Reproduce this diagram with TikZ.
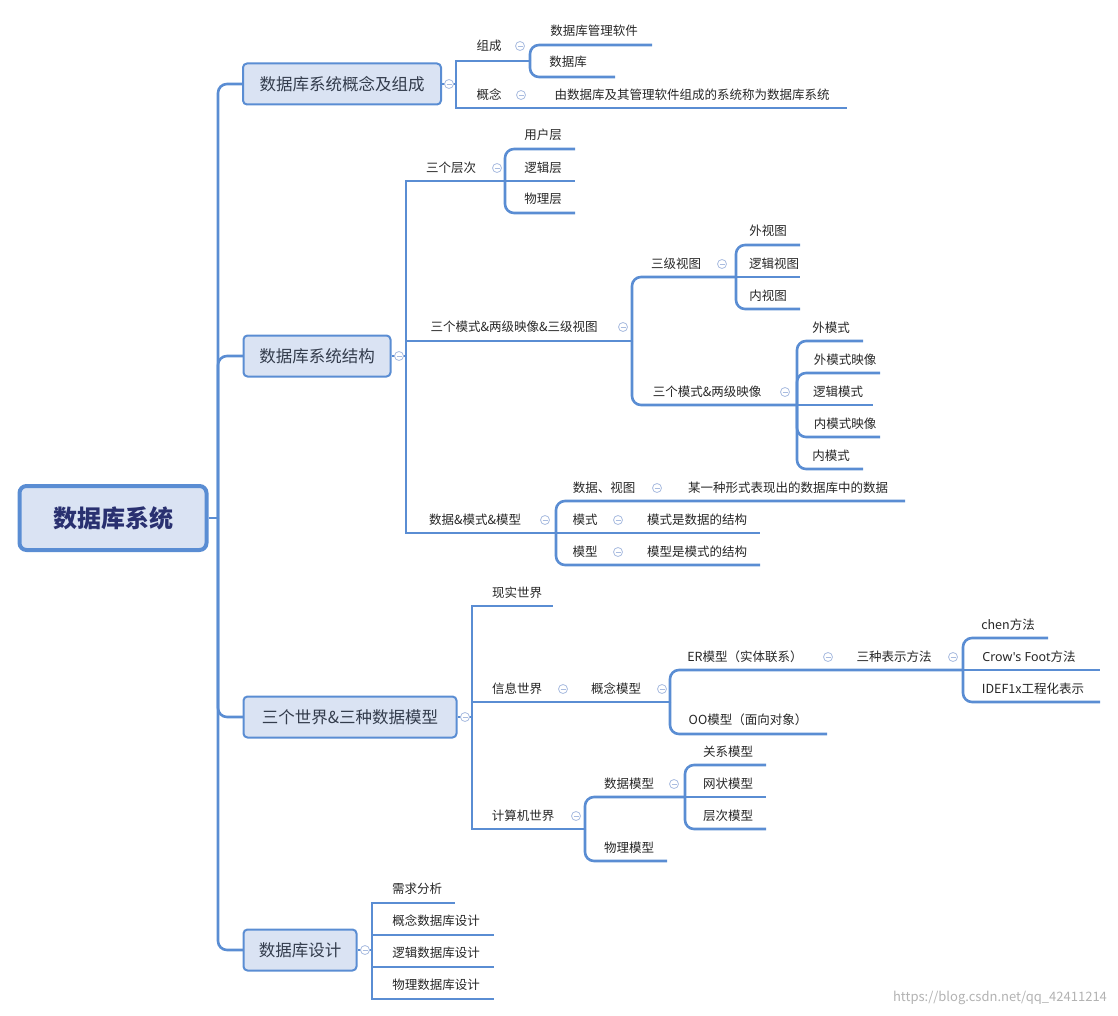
\documentclass[tikz,border=0pt]{standalone}
\usepackage{fontspec}
\setmainfont{Noto Sans CJK SC}
\newfontfamily\latinf{Noto Sans}
\definecolor{lc}{HTML}{5A8DD3}
\definecolor{bf}{HTML}{DAE3F3}
\definecolor{cc}{HTML}{A9BCE0}
\definecolor{tc}{HTML}{333C4C}
\begin{document}
\begin{tikzpicture}[x=1pt,y=-1pt,
 ln/.style={draw=lc,line width=2.6pt},
 rc/.style={ln,rounded corners=9pt},
 t/.style={font=\fontsize{12.5}{13}\selectfont,inner sep=0pt,text=black!85},
 box/.style={draw=lc,line width=2pt,fill=bf,rounded corners=4pt,minimum height=41pt,inner xsep=0pt,font=\fontsize{16.5}{16}\selectfont,text=tc},
 cl/.style={draw=cc,line width=0.8pt,fill=white}]
\useasboundingbox (0,0) rectangle (1118,1016);
\newcommand\cl[2]{\draw[cl] (#1,#2) circle[radius=4.5]; \draw[draw=cc,line width=0.8pt] (#1-2.5,#2) -- (#1+2.5,#2);}
% root
\node[draw=lc,line width=4pt,fill=bf,rounded corners=7pt,minimum width=187pt,minimum height=64pt,font=\bfseries\fontsize{24}{24}\selectfont,text=tc!80!blue] (root) at (113,518) {数据库系统};
% trunk
\coordinate (tr) at (218,518);
\draw[ln] (root.east) -- (tr);
\foreach \yy in {84,356,717,950}{\draw[rc] (tr) |- (243,\yy);}
\node[box,minimum width=198pt] (A) at (342,84) {数据库系统概念及组成};
\node[box,minimum width=147pt] (B) at (317,356) {数据库系统结构};
\node[box,minimum width=213pt] (C) at (350,717) {三个世界\&三种数据模型};
\node[box,minimum width=113pt] (D) at (300,950) {数据库设计};
% A
\draw[ln] (A.east) -- (456,84);
\draw[ln] (456,84) |- (530,61); \draw[ln] (456,84) |- (847,108);
\draw[rc] (530,61) |- (652,45); \draw[rc] (530,61) |- (615,77);
\node[t] (a1) at (489,46) {组成}; \cl{520}{46}
\node[t] (a2) at (489,95) {概念}; \cl{521}{95}
\node[t] (a11) at (594,31) {数据库管理软件};
\node[t] (a12) at (568,62) {数据库};
\node[t] (a21) at (692,95) {由数据库及其管理软件组成的系统称为数据库系统};
\cl{449}{84}
% B
\draw[ln] (B.east) -- (406,356);
\draw[ln] (406,356) |- (505,181); \draw[ln] (406,356) |- (632,341); \draw[ln] (406,356) |- (556,533);
\cl{399}{356}
\node[t] (b1) at (451,168) {三个层次}; \cl{497}{168}
\draw[rc] (505,181) |- (575,149); \draw[ln] (505,181) -- (575,181); \draw[rc] (505,181) |- (575,213);
\node[t] (b11) at (543,135) {用户层};
\node[t] (b12) at (543,168) {逻辑层};
\node[t] (b13) at (543,199) {物理层};
\node[t] (b2) at (514,327) {三个模式\&两级映像\&三级视图}; \cl{623}{327}
\draw[rc] (632,341) |- (736,277); \draw[rc] (632,341) |- (797,405);
\node[t] (b21) at (676,264) {三级视图}; \cl{722}{264}
\draw[rc] (736,277) |- (800,245); \draw[ln] (736,277) -- (800,277); \draw[rc] (736,277) |- (800,309);
\node[t] (b211) at (768,231) {外视图};
\node[t] (b212) at (774,264) {逻辑视图};
\node[t] (b213) at (768,296) {内视图};
\node[t] (b22) at (707,392) {三个模式\&两级映像}; \cl{785}{392}
\draw[rc] (797,405) |- (863,341); \draw[rc] (797,405) |- (880,373); \draw[ln] (797,405) -- (873,405);
\draw[rc] (797,405) |- (880,437); \draw[rc] (797,405) |- (863,469);
\node[t] (b221) at (831,328) {外模式};
\node[t] (b222) at (845,360) {外模式映像};
\node[t] (b223) at (838,392) {逻辑模式};
\node[t] (b224) at (845,424) {内模式映像};
\node[t] (b225) at (831,456) {内模式};
\node[t] (b3) at (475,520) {数据\&模式\&模型}; \cl{545}{520}
\draw[rc] (556,533) |- (905,501); \draw[ln] (556,533) -- (760,533); \draw[rc] (556,533) |- (760,565);
\node[t] (b31) at (604,488) {数据、视图}; \cl{657}{488}
\node[t] (b311) at (788,488) {某一种形式表现出的数据库中的数据};
\node[t] (b32) at (585,520) {模式}; \cl{618}{520}
\node[t] (b321) at (697,520) {模式是数据的结构};
\node[t] (b33) at (585,552) {模型}; \cl{618}{552}
\node[t] (b331) at (697,552) {模型是模式的结构};
% C
\draw[ln] (C.east) -- (472,717);
\cl{465}{717}
\draw[ln] (472,717) |- (553,606); \draw[ln] (472,717) |- (670,702); \draw[ln] (472,717) |- (585,829);
\node[t] (c1) at (517,593) {现实世界};
\node[t] (c2) at (517,689) {信息世界}; \cl{563}{689}
\node[t] (c21) at (616,689) {概念模型}; \cl{662}{689}
\draw[rc] (670,702) |- (963,670); \draw[rc] (670,702) |- (827,734);
\node[t] (c211) at (745,657) {ER模型（实体联系）}; \cl{828}{657}
\node[t] (c212) at (894,657) {三种表示方法}; \cl{953}{657}
\draw[rc] (963,670) |- (1048,638); \draw[ln] (963,670) -- (1100,670); \draw[rc] (963,670) |- (1100,702);
\node[t] (c2121) at (1008,625) {chen方法};
\node[t] (c2122) at (1029,657) {{\latinf Crow's Foot}方法};
\node[t] (c2123) at (1033,689) {IDEF1x工程化表示};
\node[t] (c22) at (748,720) {OO模型（面向对象）};
\node[t] (c3) at (523,816) {计算机世界}; \cl{576}{816}
\draw[rc] (585,829) |- (685,797); \draw[rc] (585,829) |- (667,861);
\node[t] (c31) at (629,784) {数据模型}; \cl{674}{784}
\draw[rc] (685,797) |- (766,765); \draw[ln] (685,797) -- (766,797); \draw[rc] (685,797) |- (766,829);
\node[t] (c311) at (728,752) {关系模型};
\node[t] (c312) at (728,784) {网状模型};
\node[t] (c313) at (728,816) {层次模型};
\node[t] (c32) at (629,848) {物理模型};
% D
\draw[ln] (D.east) -- (372,950);
\cl{365}{950}
\draw[ln] (372,950) |- (455,903); \draw[ln] (372,950) |- (494,935); \draw[ln] (372,950) |- (494,967); \draw[ln] (372,950) |- (494,999);
\node[t] (d1) at (417,889) {需求分析};
\node[t] (d2) at (436,921) {概念数据库设计};
\node[t] (d3) at (436,953) {逻辑数据库设计};
\node[t] (d4) at (436,985) {物理数据库设计};
\node[font=\fontsize{13}{13}\selectfont,text=black!30,inner sep=0] (wm) at (1000,998) {https://blog.csdn.net/qq\_42411214};
\end{tikzpicture}
\end{document}
